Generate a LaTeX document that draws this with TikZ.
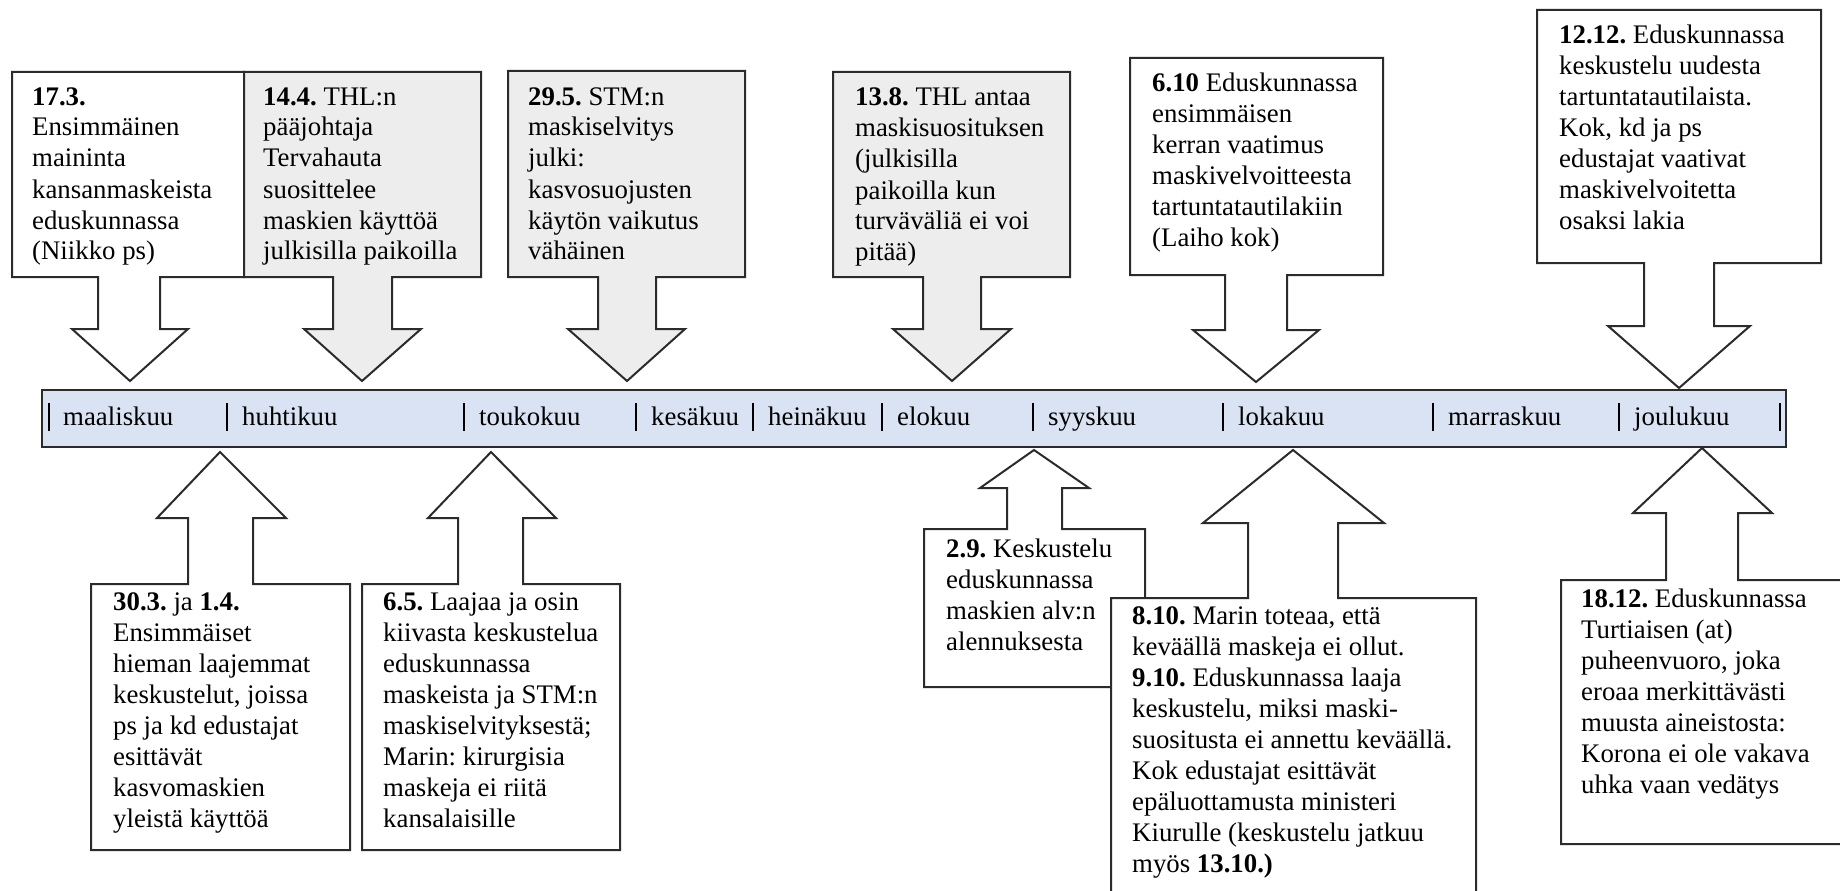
\documentclass[tikz,border=0pt]{standalone}
\usepackage{fontspec}
\setmainfont{Liberation Serif}
\frenchspacing
\definecolor{graybox}{HTML}{EDEDED}
\definecolor{barblue}{HTML}{DAE3F3}
\definecolor{linec}{HTML}{2B2B2B}
\begin{document}
\begin{tikzpicture}[x=1pt,y=-1pt,
  callout/.style={draw=linec,line width=2pt,line join=miter,fill=white},
  grayc/.style={callout,fill=graybox},
  txt/.style={anchor=base west,inner sep=0pt,font=\fontsize{26.8}{31}\selectfont},
  tickmark/.style={draw=black,line width=2pt},
  month/.style={anchor=base west,inner sep=0pt,font=\fontsize{26.8}{31}\selectfont}]
\useasboundingbox (0,0) rectangle (1840,891);
\clip (0,0) rectangle (1840,891);

% timeline bar
\draw[draw=linec,line width=2pt,fill=barblue] (42,390) rectangle (1786,447);
\foreach \x/\n in {49/t1,227/t2,464/t3,636/t4,753/t5,882/t6,1033/t7,1223/t8,1433/t9,1619/t10,1780/t11}
  \draw[tickmark] (\x,403) -- (\x,431);
\node[month] (m3) at (63,425) {maaliskuu};
\node[month] (m4) at (242,425) {huhtikuu};
\node[month] (m5) at (479,425) {toukokuu};
\node[month] (m6) at (651,425) {kesäkuu};
\node[month] (m7) at (768,425) {heinäkuu};
\node[month] (m8) at (897,425) {elokuu};
\node[month] (m9) at (1048,425) {syyskuu};
\node[month] (m10) at (1238,425) {lokakuu};
\node[month] (m11) at (1448,425) {marraskuu};
\node[month] (m12) at (1634,425) {joulukuu};

% down callouts
\draw[callout] (12,72) -- (244,72) -- (244,277) -- (160,277) -- (160,329) -- (188,329) -- (130,381) -- (72,329) -- (98,329) -- (98,277) -- (12,277) -- cycle;
\draw[grayc] (244,72) -- (481,72) -- (481,277) -- (392,277) -- (392,329) -- (421,329) -- (362,381) -- (304,329) -- (333,329) -- (333,277) -- (244,277) -- cycle;
\draw[grayc] (508,71) -- (745,71) -- (745,277) -- (656,277) -- (656,329) -- (685,329) -- (627,381) -- (568,329) -- (598,329) -- (598,277) -- (508,277) -- cycle;
\draw[grayc] (833,72) -- (1070,72) -- (1070,277) -- (981,277) -- (981,329) -- (1011,329) -- (952,381) -- (893,329) -- (923,329) -- (923,277) -- (833,277) -- cycle;
\draw[callout] (1130,58) -- (1383,58) -- (1383,275) -- (1287,275) -- (1287,330) -- (1319,330) -- (1256,382) -- (1193,330) -- (1225,330) -- (1225,275) -- (1130,275) -- cycle;
\draw[callout] (1537,10) -- (1821,10) -- (1821,263) -- (1714,263) -- (1714,326) -- (1750,326) -- (1679,388) -- (1608,326) -- (1644,326) -- (1644,263) -- (1537,263) -- cycle;

% up callouts
\draw[callout] (91,850) -- (91,584) -- (188,584) -- (188,518) -- (157,518) -- (220,452) -- (286,518) -- (253,518) -- (253,584) -- (350,584) -- (350,850) -- cycle;
\draw[callout] (362,850) -- (362,584) -- (458,584) -- (458,518) -- (428,518) -- (491,452) -- (556,518) -- (523,518) -- (523,584) -- (620,584) -- (620,850) -- cycle;
\draw[callout] (924,687) -- (924,529) -- (1007,529) -- (1007,488) -- (980,488) -- (1034,450) -- (1089,488) -- (1062,488) -- (1062,529) -- (1145,529) -- (1145,687) -- cycle;
\draw[callout] (1111,910) -- (1111,598) -- (1248,598) -- (1248,523) -- (1203,523) -- (1293,450) -- (1384,523) -- (1338,523) -- (1338,598) -- (1476,598) -- (1476,910) -- cycle;
\draw[callout] (1561,844) -- (1561,580) -- (1666,580) -- (1666,513) -- (1633,513) -- (1702,448) -- (1772,513) -- (1738,513) -- (1738,580) -- (1860,580) -- (1860,844) -- cycle;

% texts
\node[txt] (e173) at (32,105) {\parbox[t]{400pt}{\textbf{17.3.}\\Ensimmäinen\\maininta\\kansanmaskeista\\eduskunnassa\\(Niikko ps)}};
\node[txt] (e144) at (263,105) {\parbox[t]{400pt}{\textbf{14.4.} THL:n\\pääjohtaja\\Tervahauta\\suosittelee\\maskien käyttöä\\julkisilla paikoilla}};
\node[txt] (e295) at (528,105) {\parbox[t]{400pt}{\textbf{29.5.} STM:n\\maskiselvitys\\julki:\\kasvosuojusten\\käytön vaikutus\\vähäinen}};
\node[txt] (e138) at (855,106) {\parbox[t]{400pt}{\textbf{13.8.} THL antaa\\maskisuosituksen\\(julkisilla\\paikoilla kun\\turväväliä ei voi\\pitää)}};
\node[txt] (e610) at (1152,92) {\parbox[t]{400pt}{\textbf{6.10} Eduskunnassa\\ensimmäisen\\kerran vaatimus\\maskivelvoitteesta\\tartuntatautilakiin\\(Laiho kok)}};
\node[txt] (e1212) at (1559,44) {\parbox[t]{400pt}{\textbf{12.12.} Eduskunnassa\\keskustelu uudesta\\tartuntatautilaista.\\Kok, kd ja ps\\edustajat vaativat\\maskivelvoitetta\\osaksi lakia}};
\node[txt] (e303) at (113,610) {\parbox[t]{400pt}{\textbf{30.3.} ja \textbf{1.4.}\\Ensimmäiset\\hieman laajemmat\\keskustelut, joissa\\ps ja kd edustajat\\esittävät\\kasvomaskien\\yleistä käyttöä}};
\node[txt] (e65) at (383,610) {\parbox[t]{400pt}{\textbf{6.5.} Laajaa ja osin\\kiivasta keskustelua\\eduskunnassa\\maskeista ja STM:n\\maskiselvityksestä;\\Marin: kirurgisia\\maskeja ei riitä\\kansalaisille}};
\node[txt] (e29) at (946,557) {\parbox[t]{400pt}{\textbf{2.9.} Keskustelu\\eduskunnassa\\maskien alv:n\\alennuksesta}};
\node[txt] (e810) at (1132,624) {\parbox[t]{400pt}{\textbf{8.10.} Marin toteaa, että\\keväällä maskeja ei ollut.\\\textbf{9.10.} Eduskunnassa laaja\\keskustelu, miksi maski-\\suositusta ei annettu keväällä.\\Kok edustajat esittävät\\epäluottamusta ministeri\\Kiurulle (keskustelu jatkuu\\myös \textbf{13.10.)}}};
\node[txt] (e1812) at (1581,607) {\parbox[t]{400pt}{\textbf{18.12.} Eduskunnassa\\Turtiaisen (at)\\puheenvuoro, joka\\eroaa merkittävästi\\muusta aineistosta:\\Korona ei ole vakava\\uhka vaan vedätys}};
\end{tikzpicture}
\end{document}
